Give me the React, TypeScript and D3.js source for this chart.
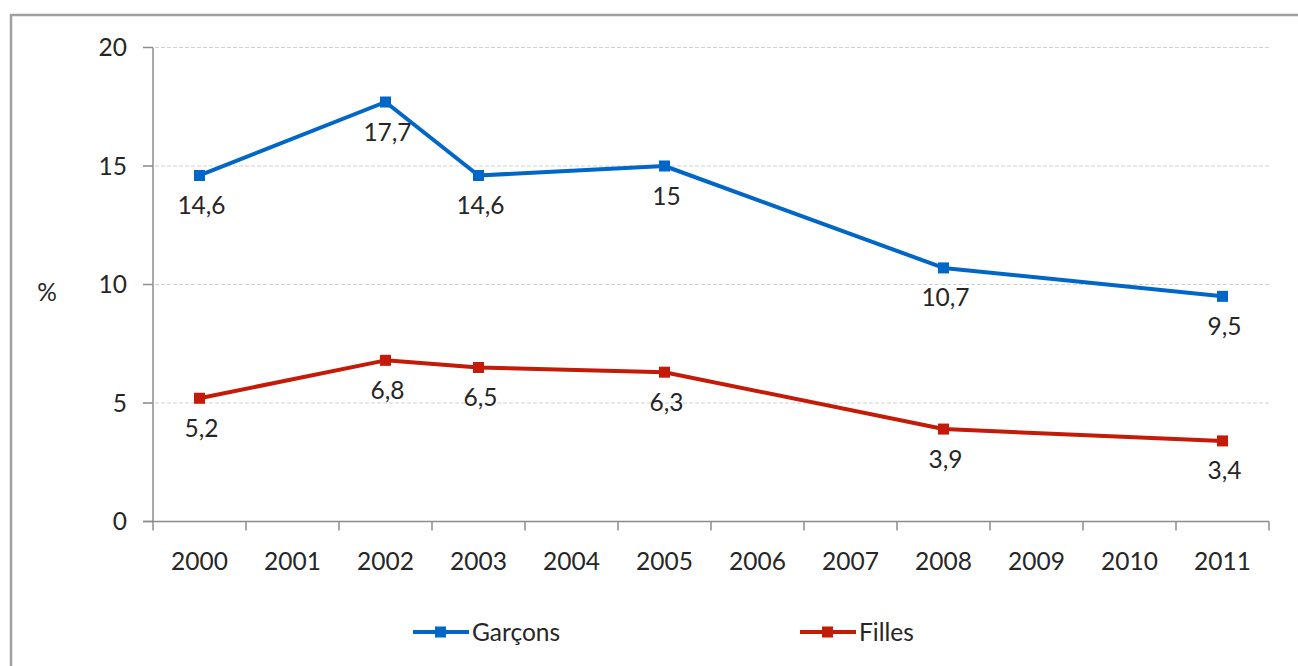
import * as React from "react"
import * as d3 from "d3"

const years = ["2000", "2001", "2002", "2003", "2004", "2005", "2006", "2007", "2008", "2009", "2010", "2011"]
const pointYears = ["2000", "2002", "2003", "2005", "2008", "2011"]
const garcons = [14.6, 17.7, 14.6, 15, 10.7, 9.5]
const filles = [5.2, 6.8, 6.5, 6.3, 3.9, 3.4]
const yTicks = [0, 5, 10, 15, 20]

const width = 1298
const height = 666
const font = "Lato, 'Open Sans', sans-serif"
const axisColor = "#8c8c8c"
const fs = 24.5

const series = [
  { name: "Garçons", values: garcons, color: "#0066c8", legendX: 413 },
  { name: "Filles", values: filles, color: "#c41a08", legendX: 800 },
]

const fmt = (v: number) => String(v).replace(".", ",")

export default function App(): React.JSX.Element {
  const x = d3.scaleBand<string>().domain(years).range([153, 1269]).padding(0)
  const y = d3.scaleLinear().domain([0, 20]).range([521.5, 47.5])
  const cx = (yr: string) => (x(yr) ?? 0) + x.bandwidth() / 2

  const line = d3
    .line<[string, number]>()
    .x((d) => cx(d[0]))
    .y((d) => y(d[1]))

  return (
    <svg
      width={width}
      height={height}
      style={{ position: "fixed", left: 0, top: 0, background: "#fff" }}
      fontFamily={font}
    >
      {/* outer frame */}
      <path d={`M11,${height} V15 H${width}`} fill="none" stroke="#a0a0a0" strokeWidth={2.5} />

      {/* gridlines */}
      {yTicks
        .filter((t) => t > 0)
        .map((t) => (
          <line
            key={"g" + t}
            x1={143}
            x2={1269}
            y1={y(t)}
            y2={y(t)}
            stroke="#d2d2d2"
            strokeWidth={1.2}
            strokeDasharray="4,2"
          />
        ))}

      {/* y axis */}
      <line x1={153} x2={153} y1={y(20)} y2={y(0)} stroke={axisColor} strokeWidth={1.5} />
      {yTicks.map((t) => (
        <g key={"y" + t}>
          <line x1={143} x2={153} y1={y(t)} y2={y(t)} stroke={axisColor} strokeWidth={1.5} />
          <text x={127} y={y(t)} dy="0.35em" textAnchor="end" fontSize={fs} fill="#262626">
            {t}
          </text>
        </g>
      ))}
      <text x={47} y={292} dy="0.35em" textAnchor="middle" fontSize={fs} fill="#262626">
        %
      </text>

      {/* x axis */}
      <line x1={143} x2={1269} y1={y(0)} y2={y(0)} stroke={axisColor} strokeWidth={1.5} />
      {[...years.map((yr) => x(yr) ?? 0), 1269].map((px, i) => (
        <line key={"xt" + i} x1={px} x2={px} y1={y(0)} y2={y(0) + 9} stroke={axisColor} strokeWidth={1.5} />
      ))}
      {years.map((yr) => (
        <text key={"xl" + yr} x={cx(yr)} y={561} dy="0.35em" textAnchor="middle" fontSize={fs} fill="#262626">
          {yr}
        </text>
      ))}

      {/* series */}
      {series.map((s) => {
        const pts = pointYears.map((yr, i) => [yr, s.values[i]] as [string, number])
        return (
          <g key={s.name}>
            <path d={line(pts) ?? ""} fill="none" stroke={s.color} strokeWidth={4} strokeLinejoin="round" />
            {pts.map((p) => (
              <rect key={p[0]} x={cx(p[0]) - 5.5} y={y(p[1]) - 5.5} width={11} height={11} fill={s.color} />
            ))}
            {pts.map((p) => (
              <text
                key={"l" + p[0]}
                x={cx(p[0]) + 2}
                y={y(p[1]) + 30}
                dy="0.35em"
                textAnchor="middle"
                fontSize={fs}
                fill="#262626"
              >
                {fmt(p[1])}
              </text>
            ))}
          </g>
        )
      })}

      {/* legend */}
      {series.map((s) => (
        <g key={"lg" + s.name}>
          <line x1={s.legendX} x2={s.legendX + 56} y1={632} y2={632} stroke={s.color} strokeWidth={4} />
          <rect x={s.legendX + 22} y={626.5} width={11} height={11} fill={s.color} />
          <text x={s.legendX + 59} y={632} dy="0.35em" fontSize={fs} fill="#262626">
            {s.name}
          </text>
        </g>
      ))}
    </svg>
  )
}
